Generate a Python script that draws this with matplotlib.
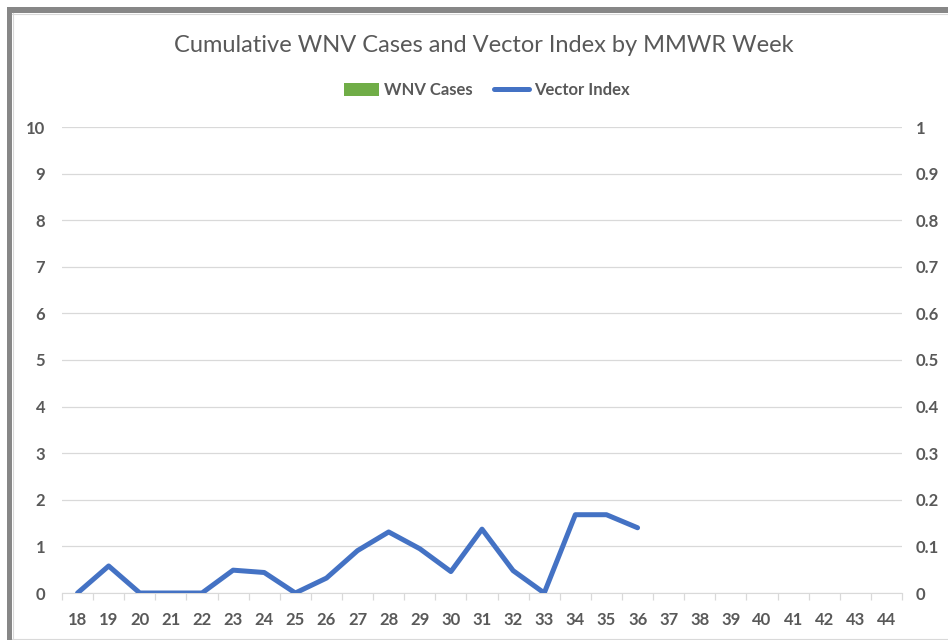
import matplotlib
matplotlib.use("Agg")
import matplotlib.pyplot as plt
import numpy as np
from matplotlib.patches import Rectangle
from matplotlib.lines import Line2D
from matplotlib.patches import Patch
from matplotlib.font_manager import FontProperties

weeks = [str(w) for w in range(18, 45)]
wnv_cases = [0] * 27
vector_index = [0.0, 0.058, 0.0, 0.0, 0.0, 0.049, 0.044, 0.0, 0.032, 0.091, 0.131,
                0.095, 0.046, 0.137, 0.048, 0.0, 0.168, 0.168, 0.14]

W, H = 948, 640
fig = plt.figure(figsize=(W / 100, H / 100), dpi=100)
fig.patch.set_facecolor("white")

# border
fig.add_artist(Rectangle((7 / W, 1 - 13 / H), 1 - 7 / W, 6 / H, transform=fig.transFigure,
                         color="#878787", lw=0))
fig.add_artist(Rectangle((7 / W, 0), 5 / W, 1 - 7 / H, transform=fig.transFigure,
                         color="#878787", lw=0))
fig.add_artist(Line2D([12 / W, 1], [1 - 13.5 / H] * 2, transform=fig.transFigure, color="#d9d9d9", lw=0.8))
fig.add_artist(Line2D([12.5 / W] * 2, [0, 1 - 13 / H], transform=fig.transFigure, color="#d9d9d9", lw=0.8))
fig.add_artist(Line2D([12 / W, 1], [1.5 / H] * 2, transform=fig.transFigure, color="#d9d9d9", lw=0.8))

tick_fp = FontProperties(family="Lato", weight="bold", size=12)

ax = fig.add_axes([62 / W, 47 / H, (902 - 62) / W, (593 - 127) / H])
x = np.arange(len(weeks))
ax.bar(x, wnv_cases, color="#70ad47", width=0.6, zorder=2)
ax.set_xlim(-0.5, len(weeks) - 0.5)
ax.set_ylim(0, 10)
ax.set_yticks(range(0, 11))
ax.grid(axis="y", color="#d9d9d9", lw=0.9, zorder=0)
ax.set_axisbelow(True)
for s in ["top", "right", "left"]:
    ax.spines[s].set_visible(False)
ax.spines["bottom"].set_color("#d9d9d9")
ax.set_xticks(x)
ax.set_xticklabels(weeks)
ax.set_xticks(np.arange(-0.5, len(weeks)), minor=True)
ax.tick_params(axis="x", which="major", length=0, pad=14)
ax.tick_params(axis="x", which="minor", length=5, color="#d9d9d9", width=0.9)
ax.tick_params(axis="y", length=0, pad=12)
for lab in ax.get_xticklabels() + ax.get_yticklabels():
    lab.set_fontproperties(tick_fp)
    lab.set_color("#595959")

ax2 = ax.twinx()
ax2.plot(np.arange(len(vector_index)), vector_index, color="#4472c4", lw=3.6,
         solid_capstyle="round", solid_joinstyle="round", zorder=3)
ax2.set_ylim(0, 1)
ax2.set_yticks(np.round(np.arange(0, 1.01, 0.1), 1))
ax2.set_yticklabels(["0", "0.1", "0.2", "0.3", "0.4", "0.5", "0.6", "0.7", "0.8", "0.9", "1"])
for s in ["top", "right", "left", "bottom"]:
    ax2.spines[s].set_visible(False)
ax2.tick_params(axis="y", length=0, pad=10)
for lab in ax2.get_yticklabels():
    lab.set_fontproperties(tick_fp)
    lab.set_color("#595959")

fig.text(484 / W, 1 - 45 / H, "Cumulative WNV Cases and Vector Index by MMWR Week",
         ha="center", va="center", family="Lato", weight="normal", size=17, color="#595959")

handles = [Patch(facecolor="#70ad47", edgecolor="none", label="WNV Cases"),
           Line2D([0], [0], color="#4472c4", lw=3.6, solid_capstyle="round", label="Vector Index")]
leg = fig.legend(handles=handles, loc="center", bbox_to_anchor=(487 / W, 1 - 90 / H), ncol=2,
                 frameon=False, handlelength=2.1, handleheight=0.8, columnspacing=1.3, handletextpad=0.3,
                 prop=FontProperties(family="Lato", weight="bold", size=12))
for t in leg.get_texts():
    t.set_color("#595959")

fig.savefig("out.png", dpi=100, facecolor="white")
